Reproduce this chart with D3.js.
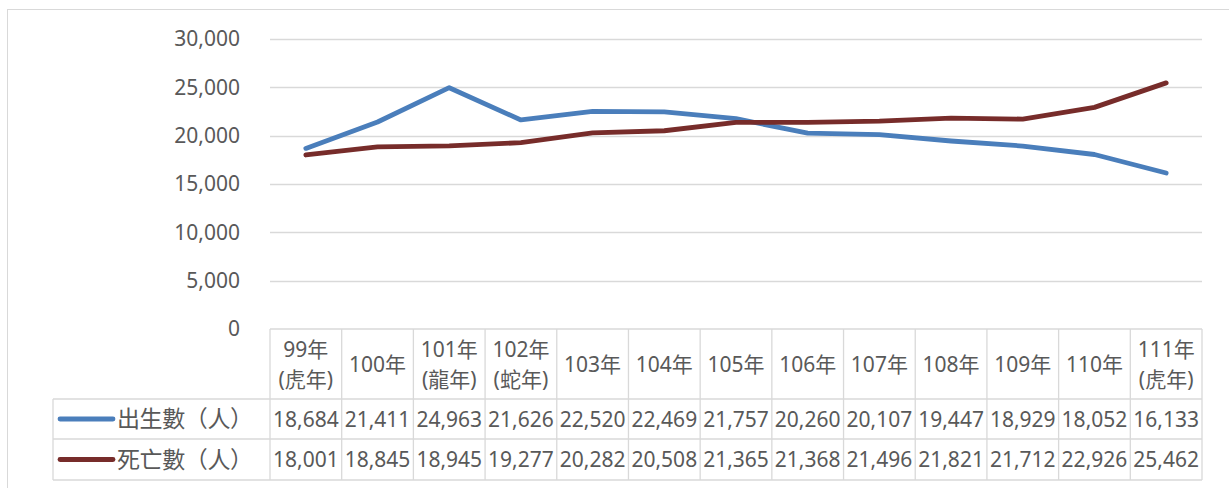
<!DOCTYPE html>
<html lang="zh-Hant">
<head>
  <meta charset="UTF-8" />
  <title>出生數與死亡數</title>
  <style>
    body { margin: 0; background: #fff; }
    svg text { font-family: "Noto Sans", "Noto Sans CJK TC", sans-serif; fill: #595959; }
  </style>
</head>
<body>
  <div id="chart"></div>

  <script src="https://d3js.org/d3.v7.min.js"></script>
  <script>
    // Data
    const categories = ["99年\n(虎年)", "100年", "101年\n(龍年)", "102年\n(蛇年)", "103年", "104年",
                        "105年", "106年", "107年", "108年", "109年", "110年", "111年\n(虎年)"];
    const births = [18684, 21411, 24963, 21626, 22520, 22469, 21757, 20260, 20107, 19447, 18929, 18052, 16133];
    const deaths = [18001, 18845, 18945, 19277, 20282, 20508, 21365, 21368, 21496, 21821, 21712, 22926, 25462];
    const seriesNames = ["出生數（人）", "死亡數（人）"];
    const seriesColors = ["#4a7ebb", "#772c2a"];
    const yTicks = [0, 5000, 10000, 15000, 20000, 25000, 30000];

    const width = 1229, height = 488;
    const plot = { left: 270, right: 1202, top: 39, bottom: 329 };
    const headerBottom = 399, rowBottoms = [439, 480];
    const labelLeft = 53;
    const gridColor = "#d9d9d9";

    const svg = d3.select("#chart").append("svg")
      .attr("width", width)
      .attr("height", height);

    // Outer chart border
    svg.append("rect")
      .attr("x", 7.5).attr("y", 9.5)
      .attr("width", width + 10).attr("height", height + 10)
      .attr("fill", "none").attr("stroke", gridColor);

    const x = d3.scaleBand().domain(categories).range([plot.left, plot.right]).padding(0);
    const y = d3.scaleLinear().domain([0, 30000]).range([plot.bottom, plot.top]);

    // Gridlines and y labels
    const yAxis = d3.axisLeft(y).tickValues(yTicks).tickFormat(d3.format(",")).tickSize(0).tickPadding(30);
    const gy = svg.append("g").attr("transform", `translate(${plot.left},0)`).call(yAxis);
    gy.select(".domain").remove();
    gy.selectAll("text").style("font-size", "21px").attr("fill", "#595959");

    svg.append("g").selectAll("line")
      .data(yTicks.filter(d => d > 0))
      .join("line")
      .attr("x1", plot.left).attr("x2", plot.right)
      .attr("y1", d => Math.round(y(d)) + 0.5).attr("y2", d => Math.round(y(d)) + 0.5)
      .attr("stroke", gridColor).attr("stroke-width", 1.3);

    // Series lines
    const cx = c => x(c) + x.bandwidth() / 2;
    const line = d3.line().x((d, i) => cx(categories[i])).y(d => y(d));
    [births, deaths].forEach((vals, k) => {
      svg.append("path")
        .datum(vals)
        .attr("d", line)
        .attr("fill", "none")
        .attr("stroke", seriesColors[k])
        .attr("stroke-width", 4.8)
        .attr("stroke-linecap", "round")
        .attr("stroke-linejoin", "round");
    });

    // Data table
    const tbl = svg.append("g").attr("stroke", gridColor).attr("stroke-width", 1.3).attr("fill", "none");
    // horizontal lines
    tbl.append("line").attr("x1", plot.left).attr("x2", plot.right).attr("y1", plot.bottom).attr("y2", plot.bottom);
    tbl.append("line").attr("x1", labelLeft).attr("x2", plot.right).attr("y1", headerBottom).attr("y2", headerBottom);
    rowBottoms.forEach(rb => {
      tbl.append("line").attr("x1", labelLeft).attr("x2", plot.right).attr("y1", rb).attr("y2", rb);
    });
    // vertical lines
    tbl.append("line").attr("x1", labelLeft).attr("x2", labelLeft).attr("y1", headerBottom).attr("y2", rowBottoms[1]);
    categories.forEach(c => {
      tbl.append("line").attr("x1", x(c)).attr("x2", x(c)).attr("y1", plot.bottom).attr("y2", rowBottoms[1]);
    });
    tbl.append("line").attr("x1", plot.right).attr("x2", plot.right).attr("y1", plot.bottom).attr("y2", rowBottoms[1]);

    // Header cells
    const headerMid = (plot.bottom + headerBottom) / 2;
    categories.forEach(c => {
      const lines = c.split("\n");
      const t = svg.append("text")
        .attr("text-anchor", "middle")
        .style("font-size", "21px");
      lines.forEach((ln, i) => {
        t.append("tspan")
          .attr("x", cx(c))
          .attr("y", headerMid + (i - (lines.length - 1) / 2) * 30)
          .attr("dy", "0.36em")
          .text(ln);
      });
    });

    // Value rows
    const rowTops = [headerBottom, rowBottoms[0]];
    [births, deaths].forEach((vals, k) => {
      const mid = (rowTops[k] + rowBottoms[k]) / 2;
      svg.append("g").selectAll("text")
        .data(vals)
        .join("text")
        .attr("x", (d, i) => cx(categories[i]))
        .attr("y", mid)
        .attr("dy", "0.36em")
        .attr("text-anchor", "middle")
        .style("font-size", "21px")
        .text(d => d3.format(",")(d));

      // legend key and series name
      svg.append("line")
        .attr("x1", 60).attr("x2", 113)
        .attr("y1", mid).attr("y2", mid)
        .attr("stroke", seriesColors[k]).attr("stroke-width", 4.8)
        .attr("stroke-linecap", "round");
      svg.append("text")
        .attr("x", 117).attr("y", mid).attr("dy", "0.36em")
        .attr("textLength", 136)
        .attr("lengthAdjust", "spacing")
        .style("font-size", "23px")
        .text(seriesNames[k]);
    });
  </script>
</body>
</html>
